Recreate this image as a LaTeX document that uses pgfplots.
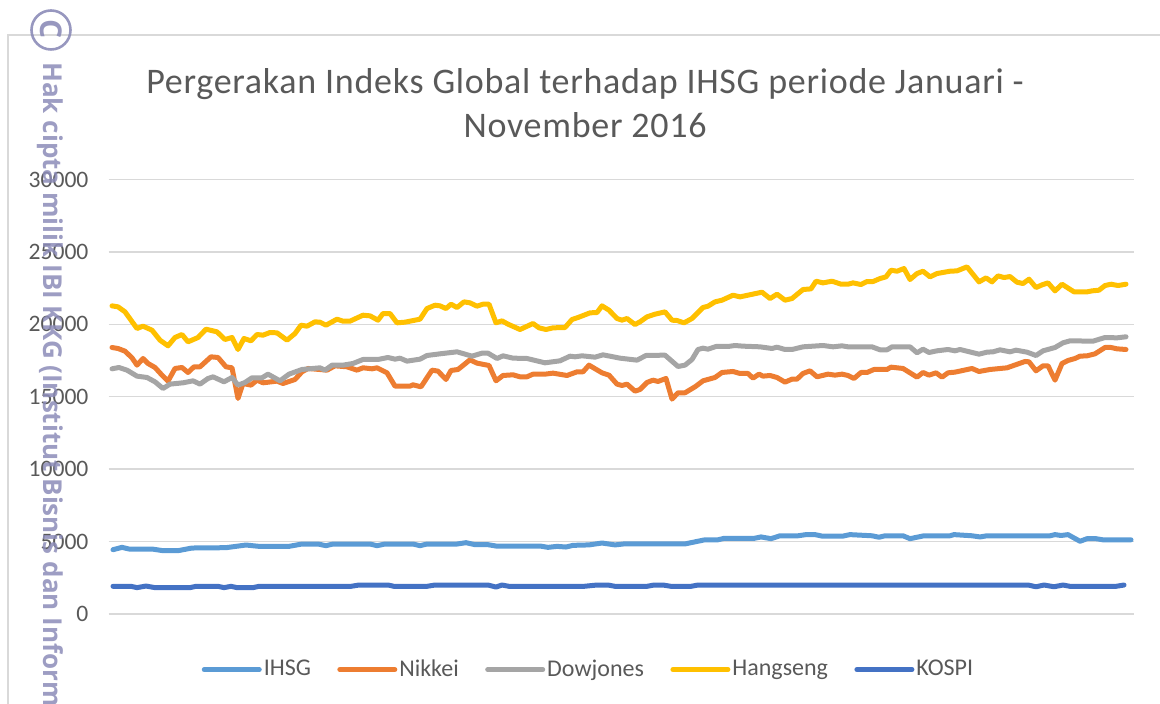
\documentclass[border=0pt]{standalone}
\usepackage{pgfplots}
\pgfplotsset{compat=1.18}
\usepackage{fontspec}
\setmainfont{Carlito}
\newfontfamily\wmfont{Open Sans}
\definecolor{ctext}{HTML}{595959}
\definecolor{cgrid}{HTML}{D9D9D9}
\definecolor{cihsg}{HTML}{5B9BD5}
\definecolor{cnik}{HTML}{ED7D31}
\definecolor{cdow}{HTML}{A5A5A5}
\definecolor{chang}{HTML}{FFC000}
\definecolor{ckospi}{HTML}{4472C4}
\definecolor{cwm}{HTML}{8C8CB8}
\begin{document}
\begin{tikzpicture}
\useasboundingbox (0pt,0pt) rectangle (580pt,352pt);
\clip (0pt,0pt) rectangle (580pt,352pt);
\draw[cgrid,line width=1pt] (4pt,0pt) -- (4pt,334.5pt) -- (580pt,334.5pt);
\begin{axis}[
  at={(54.25pt,45pt)}, anchor=south west,
  scale only axis, width=512.75pt, height=217.25pt,
  xmin=108.5, xmax=1134, ymin=0, ymax=30000,
  ytick={0,5000,...,30000}, xtick=\empty,
  scaled y ticks=false,
  ymajorgrids, grid style={cgrid,line width=0.7pt},
  axis line style={draw=none},
  tick style={draw=none},
  major tick length=0pt,
  clip=false,
  yticklabel style={font=\fontsize{11.8}{12}\selectfont,text=ctext,xshift=-6.5pt,/pgf/number format/fixed,/pgf/number format/1000 sep={},/pgf/number format/assume math mode=true},
  title={\addfontfeature{LetterSpace=2}Pergerakan Indeks Global terhadap IHSG periode Januari -\\\addfontfeature{LetterSpace=2}November 2016},
  title style={at={(0.4647,1)},anchor=south,align=center,text=ctext,yshift=11.5pt,font=\fontsize{18}{22}\selectfont},
  legend columns=5,
  legend style={at={(0.468,-0.128)},anchor=center,draw=none,fill=none,font=\fontsize{12}{13}\selectfont,text=ctext,
    nodes={inner xsep=1pt},
    /tikz/every even column/.append style={column sep=12.2pt}},
  legend image code/.code={\draw[#1,line width=2.5pt,line cap=round] (0pt,0pt) -- (27.5pt,0pt);},
  every axis plot/.append style={line width=2.5pt,line join=round,line cap=round,no markers},
]
\addplot[cihsg] coordinates {
(113,4440)(122,4601)(129,4486)(152,4486)(163,4371)(178,4371)(192,4555)(226,4578)(246,4762)(259,4670)(289,4670)(302,4831)(318,4831)(326,4716)(333,4831)(370,4831)(377,4716)(385,4831)(413,4831)(420,4716)(427,4831)(457,4831)(466,4923)(475,4785)(488,4785)(496,4693)(540,4693)(548,4601)(557,4670)(566,4624)(573,4739)(589,4770)(602,4900)(615,4770)(624,4838)(685,4838)(704,5110)(717,5110)(724,5220)(754,5220)(761,5320)(771,5200)(780,5400)(798,5400)(806,5480)(815,5480)(822,5380)(843,5380)(850,5480)(872,5400)(879,5300)(885,5400)(903,5400)(910,5200)(924,5400)(950,5400)(954,5480)(972,5400)(980,5320)(987,5400)(1050,5400)(1055,5480)(1061,5420)(1068,5480)(1080,5020)(1087,5200)(1096,5200)(1103,5120)(1131,5120)};
\addlegendentry{IHSG}
\addplot[cnik] coordinates {
(112,18400)(118,18331)(125,18147)(132,17687)(137,17181)(143,17641)(148,17296)(155,17020)(162,16491)(168,16077)(175,16951)(182,17020)(188,16675)(194,17066)(200,17066)(211,17756)(218,17710)(226,17066)(232,16997)(238,14881)(243,15916)(251,15801)(257,16146)(263,15962)(277,16077)(283,15916)(295,16192)(302,16722)(308,16951)(327,16836)(335,17135)(347,17066)(357,16836)(363,16997)(372,16928)(377,16997)(387,16652)(395,15732)(410,15732)(413,15824)(421,15686)(432,16836)(438,16767)(446,16192)(451,16813)(458,16882)(470,17549)(477,17319)(489,17158)(496,16101)(503,16468)(513,16514)(520,16376)(527,16376)(533,16560)(545,16560)(553,16629)(567,16468)(577,16721)(583,16721)(589,17181)(602,16652)(609,16491)(617,15870)(622,15778)(627,15870)(635,15387)(640,15502)(647,15985)(653,16146)(658,16054)(666,16261)(672,14835)(678,15272)(685,15272)(695,15686)(703,16100)(715,16330)(722,16675)(733,16744)(740,16606)(748,16606)(753,16284)(759,16560)(763,16422)(770,16468)(777,16330)(785,16008)(792,16215)(797,16215)(803,16606)(810,16790)(817,16376)(828,16560)(835,16491)(842,16560)(848,16468)(854,16261)(861,16675)(867,16675)(874,16882)(887,16882)(891,17043)(903,16951)(910,16652)(917,16353)(923,16675)(929,16491)(936,16652)(942,16353)(948,16652)(955,16698)(972,16951)(979,16744)(990,16882)(1007,16997)(1025,17434)(1029,17411)(1036,16790)(1043,17135)(1048,17135)(1055,16146)(1062,17296)(1068,17503)(1075,17641)(1080,17802)(1087,17825)(1095,17963)(1105,18400)(1111,18400)(1117,18308)(1126,18262)};
\addlegendentry{Nikkei}
\addplot[cdow] coordinates {
(112,16928)(119,17020)(127,16836)(137,16422)(147,16330)(155,16031)(163,15571)(170,15870)(183,15962)(193,16100)(200,15870)(208,16261)(213,16376)(224,16031)(232,16330)(238,15801)(245,15985)(252,16307)(262,16307)(268,16560)(280,16100)(289,16560)(302,16882)(320,16997)(325,16836)(332,17181)(343,17181)(353,17296)(363,17572)(378,17572)(388,17710)(395,17595)(400,17664)(407,17457)(420,17595)(427,17848)(440,17963)(457,18101)(472,17802)(482,18009)(488,18009)(497,17641)(503,17825)(513,17664)(527,17641)(545,17342)(560,17480)(570,17802)(575,17756)(582,17825)(595,17733)(603,17894)(620,17664)(637,17526)(646,17848)(665,17871)(678,17089)(685,17181)(692,17572)(698,18262)(703,18354)(708,18285)(716,18469)(728,18469)(735,18538)(743,18492)(760,18446)(772,18331)(777,18423)(785,18262)(792,18262)(803,18446)(813,18492)(823,18538)(833,18446)(842,18515)(848,18446)(872,18446)(880,18239)(887,18239)(892,18446)(910,18446)(917,18032)(923,18285)(929,18055)(937,18170)(948,18262)(955,18170)(960,18262)(979,17940)(987,18078)(993,18101)(1000,18239)(1010,18101)(1016,18216)(1027,18078)(1036,17848)(1043,18170)(1055,18400)(1063,18722)(1070,18860)(1093,18837)(1105,19090)(1117,19067)(1126,19139)};
\addlegendentry{Dowjones}
\addplot[chang] coordinates {
(112,21275)(118,21206)(125,20861)(137,19711)(143,19872)(152,19596)(160,18906)(168,18515)(175,19090)(182,19297)(188,18791)(198,19090)(206,19665)(217,19481)(225,18952)(232,19090)(238,18262)(244,19021)(251,18860)(257,19297)(263,19251)(270,19435)(277,19412)(287,18906)(295,19366)(301,19941)(307,19872)(315,20171)(320,20148)(326,19941)(337,20355)(343,20217)(350,20217)(363,20631)(370,20585)(378,20286)(383,20746)(390,20746)(397,20102)(405,20148)(420,20355)(427,21091)(435,21321)(440,21275)(446,21091)(451,21390)(457,21160)(464,21551)(470,21482)(477,21252)(483,21390)(489,21390)(496,20102)(502,20240)(508,20010)(520,19642)(533,20056)(539,19757)(546,19642)(553,19757)(565,19780)(572,20332)(578,20470)(590,20792)(597,20815)(602,21275)(609,20976)(617,20401)(622,20286)(627,20401)(635,19987)(640,20171)(647,20516)(655,20700)(665,20861)(672,20286)(677,20263)(684,20102)(692,20401)(703,21160)(708,21252)(715,21551)(722,21666)(733,22011)(740,21896)(762,22218)(770,21781)(777,22080)(785,21666)(792,21781)(803,22402)(811,22448)(816,22977)(823,22862)(832,22977)(841,22770)(848,22770)(853,22862)(861,22747)(867,22954)(873,22954)(880,23161)(886,23276)(891,23736)(897,23667)(904,23851)(910,23092)(917,23506)(923,23667)(930,23276)(937,23506)(950,23667)(957,23690)(967,23966)(979,22931)(986,23207)(992,22931)(998,23345)(1004,23230)(1010,23299)(1017,22908)(1023,22816)(1029,23115)(1036,22540)(1042,22724)(1048,22862)(1055,22310)(1062,22770)(1074,22241)(1087,22241)(1092,22310)(1099,22356)(1105,22678)(1111,22770)(1118,22678)(1126,22770)};
\addlegendentry{Hangseng}
\addplot[ckospi] coordinates {
(113,1910)(131,1910)(137,1820)(146,1930)(155,1820)(190,1820)(196,1910)(218,1910)(224,1820)(231,1910)(237,1820)(253,1820)(259,1910)(351,1910)(359,2000)(388,2000)(394,1910)(427,1910)(435,2000)(488,2000)(496,1860)(502,2000)(509,1910)(584,1910)(597,2000)(608,2000)(615,1910)(647,1910)(654,2000)(663,2000)(671,1910)(691,1910)(698,2000)(1028,2000)(1036,1880)(1044,2000)(1054,1880)(1063,2000)(1070,1910)(1116,1910)(1124,2000)};
\addlegendentry{KOSPI}
\end{axis}
\draw[cwm,line width=1.3pt,opacity=.9] (25.5pt,337pt) circle (9.75pt);
\node[rotate=-90,text=cwm,opacity=.9,font=\wmfont\bfseries\fontsize{15}{15}\selectfont] at (25.5pt,337.5pt) {C};
\node[rotate=-90,anchor=west,text=cwm,opacity=.85,inner sep=0pt,font=\wmfont\bfseries\fontsize{13}{13}\selectfont] at (25pt,321pt) {Hak cipta milik IBI KKG (Institut Bisnis dan Inform};
\end{tikzpicture}
\end{document}
